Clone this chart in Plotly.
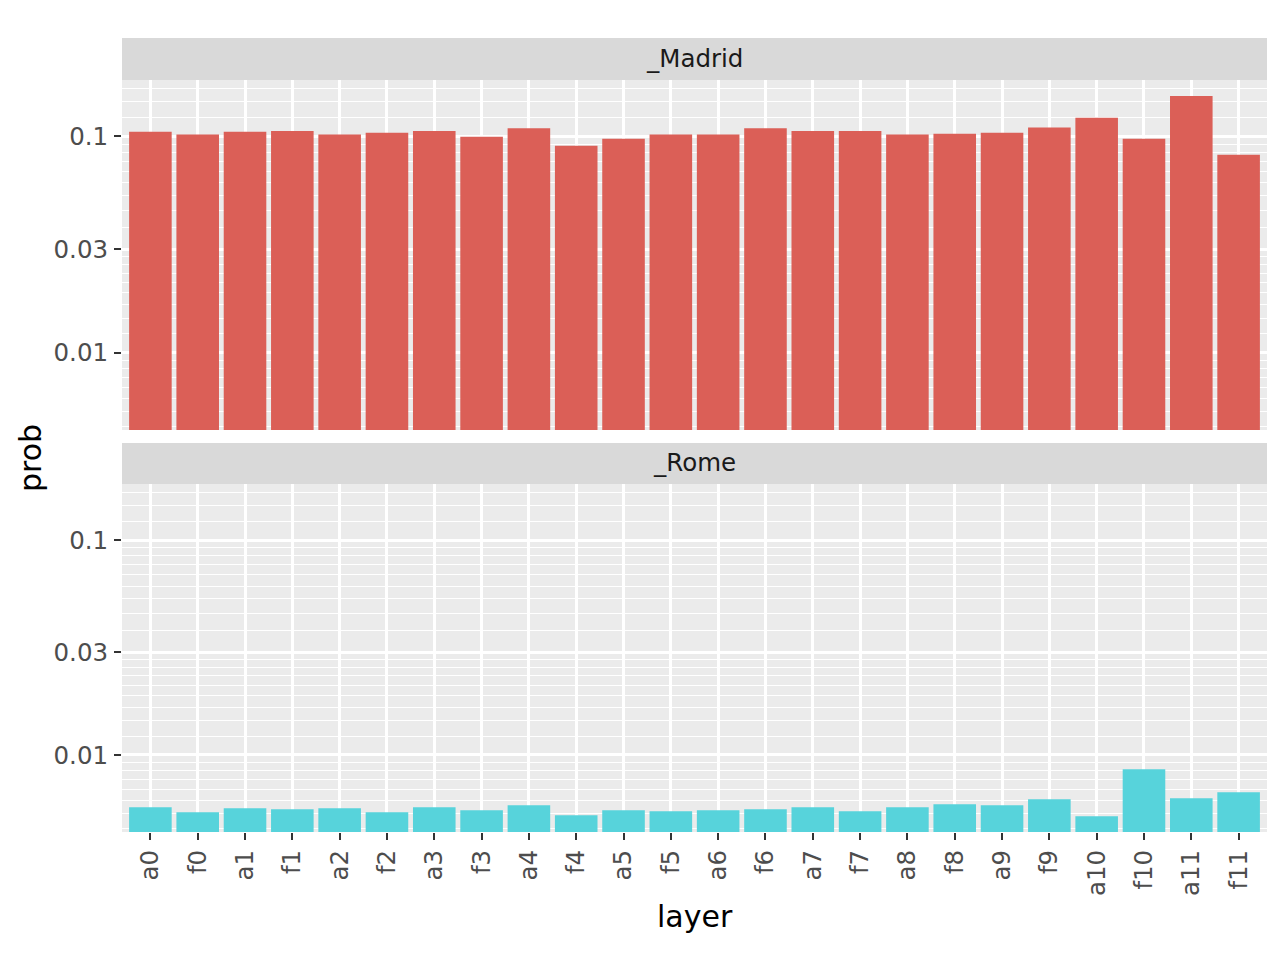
import math
import plotly.graph_objects as go

layers = ["a0", "f0", "a1", "f1", "a2", "f2", "a3", "f3", "a4", "f4", "a5", "f5",
          "a6", "f6", "a7", "f7", "a8", "f8", "a9", "f9", "a10", "f10", "a11", "f11"]
madrid = [0.105, 0.102, 0.105, 0.106, 0.102, 0.104, 0.106, 0.0997, 0.109, 0.0906, 0.0976, 0.102,
          0.102, 0.109, 0.106, 0.106, 0.102, 0.103, 0.104, 0.110, 0.122, 0.0976, 0.154, 0.0823]
rome = [0.00571, 0.00541, 0.00565, 0.00559, 0.00565, 0.00541, 0.00571, 0.00553, 0.00583, 0.00524,
        0.00553, 0.00547, 0.00553, 0.00559, 0.00571, 0.00547, 0.00571, 0.00590, 0.00583, 0.00622,
        0.00519, 0.00858, 0.00629, 0.00671]
facets = ["_Madrid", "_Rome"]
y_ticks = [0.01, 0.03, 0.1]
y_ticktext = ["0.01", "0.03", "0.1"]
major_all = [0.003, 0.01, 0.03, 0.1, 0.3]

# minor breaks: 8 evenly spaced (linear) between consecutive majors
minor = []
for b0, b1 in zip(major_all[:-1], major_all[1:]):
    for k in range(1, 9):
        minor.append(b0 + k * (b1 - b0) / 9)

allv = madrid + rome
lo, hi = math.log10(min(allv)), math.log10(max(allv))
pad = 0.05 * (hi - lo)
yrange = [lo - pad, hi + pad]

OFF = 8  # page body margin
W, H = 1280 - 2 * OFF, 960 - 2 * OFF
ml = 122 - OFF
mt = 38 - OFF
mr = OFF + W - 1267
mb = OFF + H - 832
ph = H - mt - mb
pw = W - ml - mr


def fy(px):
    # page pixel y -> paper fraction
    return (OFF + H - mb - px) / ph


def fx(px):
    return (px - OFF - ml) / pw


top_dom = [fy(430), fy(80)]
bot_dom = [fy(832), fy(484)]
top_strip = [fy(80), fy(38)]
bot_strip = [fy(484), fy(443)]

RED = "#db5f57"
CYAN = "#57d3db"
PANEL = "#ebebeb"
STRIP = "#d9d9d9"
TICKC = "#333333"
TXT = "#4d4d4d"
FONT = "DejaVu Sans"
TS = 24.5

fig = go.Figure()
fig.add_trace(go.Bar(x=layers, y=madrid, marker=dict(color=RED, line=dict(width=0)),
                     xaxis="x", yaxis="y", showlegend=False))
fig.add_trace(go.Bar(x=layers, y=rome, marker=dict(color=CYAN, line=dict(width=0)),
                     xaxis="x2", yaxis="y2", showlegend=False))

yax_common = dict(
    type="log", range=yrange, tickvals=y_ticks, ticktext=y_ticktext,
    showgrid=True, gridcolor="white", gridwidth=2.6, zeroline=False,
    ticks="outside", ticklen=7, tickwidth=2.4, tickcolor=TICKC,
    tickfont=dict(family=FONT, size=TS, color=TXT), ticklabelstandoff=1,
    minor=dict(tickvals=minor, showgrid=True, gridcolor="white", gridwidth=1.4, ticks=""),
    showline=False,
)
xax_common = dict(
    type="category", categoryorder="array", categoryarray=layers,
    range=[-0.6, len(layers) - 0.4], showgrid=True, gridcolor="white", gridwidth=2.6,
    zeroline=False, showline=False,
)

fig.update_layout(
    width=W, height=H,
    margin=dict(l=ml, r=mr, t=mt, b=mb),
    paper_bgcolor="white", plot_bgcolor=PANEL,
    bargap=0.1,
    font=dict(family=FONT, color=TXT),
    xaxis=dict(domain=[0, 1], anchor="y", showticklabels=False, ticks="", **xax_common),
    xaxis2=dict(domain=[0, 1], anchor="y2", showticklabels=True, ticks="outside",
                ticklen=7, tickwidth=2.4, tickcolor=TICKC, tickangle=-90,
                tickfont=dict(family=FONT, size=TS, color=TXT), ticklabelstandoff=0,
                **xax_common),
    yaxis=dict(domain=top_dom, anchor="x", **yax_common),
    yaxis2=dict(domain=bot_dom, anchor="x2", **yax_common),
    shapes=[
        dict(type="rect", xref="paper", yref="paper", x0=0, x1=1,
             y0=top_strip[0], y1=top_strip[1], fillcolor=STRIP, line=dict(width=0), layer="below"),
        dict(type="rect", xref="paper", yref="paper", x0=0, x1=1,
             y0=bot_strip[0], y1=bot_strip[1], fillcolor=STRIP, line=dict(width=0), layer="below"),
    ],
    annotations=[
        dict(text=facets[0], xref="paper", yref="paper", x=0.5, y=fy(58),
             showarrow=False, xanchor="center", yanchor="middle",
             font=dict(family=FONT, size=TS, color="#1a1a1a")),
        dict(text=facets[1], xref="paper", yref="paper", x=0.5, y=fy(462),
             showarrow=False, xanchor="center", yanchor="middle",
             font=dict(family=FONT, size=TS, color="#1a1a1a")),
        dict(text="layer", xref="paper", yref="paper", x=0.5, y=fy(917),
             showarrow=False, xanchor="center", yanchor="middle",
             font=dict(family=FONT, size=30, color="black")),
        dict(text="prob", xref="paper", yref="paper", x=fx(30), y=fy(458),
             showarrow=False, xanchor="center", yanchor="middle", textangle=-90,
             font=dict(family=FONT, size=30, color="black")),
    ],
)

fig.write_html("out.html")
